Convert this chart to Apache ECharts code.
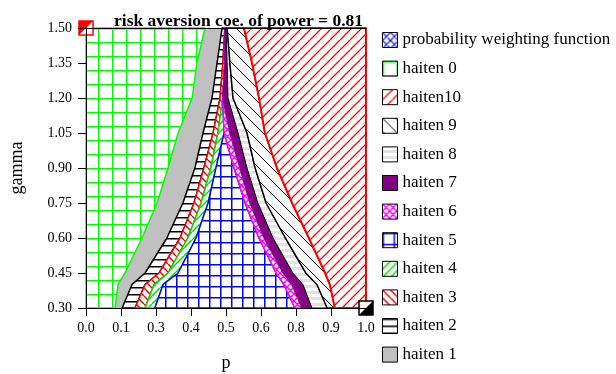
<!DOCTYPE html>
<html><head><meta charset="utf-8">
<script src="https://cdn.jsdelivr.net/npm/echarts@6/dist/echarts.min.js"></script>
<style>html,body{margin:0;padding:0;background:#fff}#c{width:616px;height:374px}</style>
</head><body><div id="c"></div>
<script>
const chartTitle = 'risk aversion coe. of power = 0.81';
const xTickLabels = ['0.0','0.1','0.3','0.4','0.5','0.6','0.8','0.9','1.0'];
const gammaLevels = [0.30, 0.40, 0.45, 0.60, 0.75, 0.90, 1.05, 1.20, 1.35, 1.50];
// region boundaries (p value at each gamma level), left to right
const edgeLeft = [0, 0, 0, 0, 0, 0, 0, 0, 0, 0];
const b1  = [0.104, 0.114, 0.139, 0.200, 0.254, 0.293, 0.329, 0.379, 0.396, 0.425];
const b2  = [0.129, 0.164, 0.211, 0.289, 0.346, 0.389, 0.418, 0.450, 0.468, 0.486];
const b3  = [0.175, 0.211, 0.261, 0.336, 0.386, 0.421, 0.454, 0.479, 0.489, 0.496];
const b4  = [0.211, 0.243, 0.293, 0.364, 0.411, 0.446, 0.471, 0.489, 0.496, 0.496];
const b5  = [0.246, 0.275, 0.329, 0.393, 0.436, 0.464, 0.493, 0.489, 0.496, 0.496];
const b6  = [0.746, 0.707, 0.679, 0.618, 0.568, 0.529, 0.493, 0.489, 0.496, 0.496];
const b7  = [0.771, 0.736, 0.704, 0.636, 0.586, 0.550, 0.514, 0.489, 0.496, 0.496];
const b8  = [0.807, 0.775, 0.739, 0.668, 0.614, 0.575, 0.543, 0.507, 0.504, 0.500];
const b9  = [0.861, 0.825, 0.785, 0.712, 0.643, 0.604, 0.575, 0.525, 0.514, 0.504];
const b10 = [0.889, 0.871, 0.854, 0.796, 0.736, 0.682, 0.639, 0.618, 0.593, 0.564];
const edgeRight = [1, 1, 1, 1, 1, 1, 1, 1, 1, 1];
const cornerPoints = [[0, 1.5], [1, 0.3]];
const legendOrder = ['probability weighting function','haiten 0','haiten10','haiten 9','haiten 8','haiten 7','haiten 6','haiten 5','haiten 4','haiten 3','haiten 2','haiten 1'];

function pat(size, bg, draw) {
  const c = document.createElement('canvas'); c.width = size; c.height = size;
  const ctx = c.getContext('2d');
  ctx.fillStyle = bg; ctx.fillRect(0, 0, size, size);
  draw(ctx, size);
  return { image: c, repeat: 'repeat' };
}
function gridPat(size, color, w) {
  return pat(size, '#fff', (ctx, s) => { ctx.fillStyle = color; ctx.fillRect(0, 0, w, s); ctx.fillRect(0, 0, s, w); });
}
function hatchPat(size, color, w, dir) {
  return pat(size, '#fff', (ctx, s) => {
    ctx.strokeStyle = color; ctx.lineWidth = w; ctx.beginPath();
    for (let k = -1; k <= 1; k++) {
      if (dir === 'up') { ctx.moveTo(k * s, s); ctx.lineTo(k * s + s, 0); }
      else { ctx.moveTo(k * s, 0); ctx.lineTo(k * s + s, s); }
    }
    ctx.stroke();
  });
}
function crossPat(size, color, w) {
  return pat(size, '#fff', (ctx, s) => {
    ctx.strokeStyle = color; ctx.lineWidth = w; ctx.beginPath();
    for (let k = -1; k <= 1; k++) {
      ctx.moveTo(k * s, s); ctx.lineTo(k * s + s, 0);
      ctx.moveTo(k * s, 0); ctx.lineTo(k * s + s, s);
    }
    ctx.stroke();
  });
}
function hLinePat(size, bg, color, w) {
  return pat(size, bg, (ctx, s) => { ctx.fillStyle = color; ctx.fillRect(0, 0, s, w); });
}

function makeFill(name) {
  switch (name) {
    case 'probability weighting function': return crossPat(8, '#0000ff', 1.2);
    case 'haiten 0': return gridPat(14, '#00ff00', 1.5);
    case 'haiten10': return hatchPat(10, '#ff0000', 1.3, 'up');
    case 'haiten 9': return hatchPat(13, '#000000', 1, 'down');
    case 'haiten 8': return hLinePat(6, '#e2e2e2', '#ffffff', 3);
    case 'haiten 7': return '#800080';
    case 'haiten 6': return crossPat(7, '#ff00ff', 1.5);
    case 'haiten 5': return gridPat(11, '#0000ff', 1.5);
    case 'haiten 4': return hatchPat(8, '#00dd00', 1.5, 'up');
    case 'haiten 3': return hatchPat(8, '#ff0000', 1.5, 'down');
    case 'haiten 2': return hLinePat(7, '#ffffff', '#000000', 1.5);
    case 'haiten 1': return '#c0c0c0';
  }
}
const strokes = {
  'haiten 0': ['#00ff00', 1.5], 'haiten10': ['#ff0000', 2], 'haiten 9': ['#000', 1.5],
  'haiten 8': ['#000', 1], 'haiten 7': ['#800080', 1], 'haiten 6': ['#ff00ff', 1.5],
  'haiten 5': ['#0000ff', 1.5], 'haiten 4': ['#00dd00', 1.5], 'haiten 3': ['#ff0000', 1.5],
  'haiten 2': ['#000', 1.5], 'haiten 1': ['#c0c0c0', 0.5]
};
// drawing order: name, left boundary, right boundary
const regions = [
  ['haiten 1', b1, b2], ['haiten 2', b2, b3], ['haiten 3', b3, b4], ['haiten 4', b4, b5],
  ['haiten 5', b5, b6], ['haiten 6', b6, b7], ['haiten 7', b7, b8], ['haiten 8', b8, b9],
  ['haiten 9', b9, b10], ['haiten 0', edgeLeft, b1], ['haiten10', b10, edgeRight]
];
const chartFills = {};
regions.forEach(([name]) => { chartFills[name] = makeFill(name); });

const series = [];
// legend-only series (carry the legend swatches)
legendOrder.forEach((name) => {
  series.push({ type: 'custom', name: name, data: [], itemStyle: { color: makeFill(name) }, renderItem: () => null });
});
// all regions drawn by one series, in order
series.push({
  type: 'custom', name: 'regions', silent: true, z: 2,
  data: [[0.5, 0.9]],
  renderItem: function (params, api) {
    const children = regions.map(([name, L, R]) => {
      const pts = [];
      for (let i = 0; i < gammaLevels.length; i++) pts.push(api.coord([L[i], gammaLevels[i]]));
      for (let i = gammaLevels.length - 1; i >= 0; i--) pts.push(api.coord([R[i], gammaLevels[i]]));
      return { type: 'polygon', shape: { points: pts },
        style: { fill: chartFills[name], stroke: strokes[name][0], lineWidth: strokes[name][1], lineJoin: 'round' } };
    });
    return { type: 'group', children: children };
  }
});
series.push({
  type: 'custom', name: 'corners', z: 5, silent: true, data: cornerPoints,
  renderItem: function (params, api) {
    const c = api.coord([api.value(0), api.value(1)]);
    const h = 7;
    const red = params.dataIndex === 0;
    const col = red ? '#ff0000' : '#000000';
    const tri = red ? [[c[0]-h, c[1]-h], [c[0]+h, c[1]-h], [c[0]-h, c[1]+h]]
                    : [[c[0]+h, c[1]-h], [c[0]+h, c[1]+h], [c[0]-h, c[1]+h]];
    return { type: 'group', children: [
      { type: 'rect', shape: { x: c[0]-h, y: c[1]-h, width: 2*h, height: 2*h }, style: { fill: '#fff', stroke: col, lineWidth: 1.5 } },
      { type: 'polygon', shape: { points: tri }, style: { fill: col } }
    ] };
  }
});

const font = 'Liberation Serif';
const chart = echarts.init(document.getElementById('c'), null, { renderer: 'canvas' });
chart.setOption({
  animation: false,
  backgroundColor: '#fff',
  title: { text: chartTitle, left: 109, top: 7,
    textStyle: { fontFamily: font, fontSize: 17.5, fontWeight: 'bold', color: '#000' } },
  grid: { left: 86, top: 28, width: 280, height: 280, containLabel: false, outerBoundsMode: 'none' },
  legend: { orient: 'vertical', left: 382, top: 31.5, itemWidth: 15, itemHeight: 15, itemGap: 11.6,
    icon: 'rect', data: legendOrder, selectedMode: false, padding: 0,
    itemStyle: { borderColor: '#000', borderWidth: 1 },
    textStyle: { fontFamily: font, fontSize: 17, color: '#000', lineHeight: 15 } },
  xAxis: [{
    type: 'value', min: 0, max: 1, interval: 0.125, z: 10,
    name: 'p', nameLocation: 'middle', nameGap: 46,
    nameTextStyle: { fontFamily: font, fontSize: 18, color: '#000' },
    axisLine: { onZero: false, lineStyle: { color: '#000', width: 1 } },
    axisTick: { show: true, length: 8, lineStyle: { color: '#000' } },
    axisLabel: { fontFamily: font, fontSize: 14, color: '#000', margin: 13,
      formatter: (v) => xTickLabels[Math.round(v / 0.125)] },
    splitLine: { show: false }
  }, {
    type: 'value', min: 0, max: 1, position: 'top', z: 10,
    axisLine: { show: true, lineStyle: { color: '#000', width: 1 } },
    axisTick: { show: false }, axisLabel: { show: false }, splitLine: { show: false }
  }],
  yAxis: [{
    type: 'value', min: 0.3, max: 1.5, interval: 0.15, z: 10,
    name: 'gamma', nameLocation: 'middle', nameGap: 60,
    nameTextStyle: { fontFamily: font, fontSize: 18, color: '#000' },
    axisLine: { show: true, onZero: false, lineStyle: { color: '#000', width: 1 } },
    axisTick: { show: true, length: 8, lineStyle: { color: '#000' } },
    axisLabel: { fontFamily: font, fontSize: 14, color: '#000', margin: 14,
      formatter: (v) => v.toFixed(2) },
    splitLine: { show: false }
  }, {
    type: 'value', min: 0.3, max: 1.5, position: 'right', z: 10,
    axisLine: { show: true, lineStyle: { color: '#000', width: 1 } },
    axisTick: { show: false }, axisLabel: { show: false }, splitLine: { show: false }
  }],
  series: series
});
</script>
</body></html>
